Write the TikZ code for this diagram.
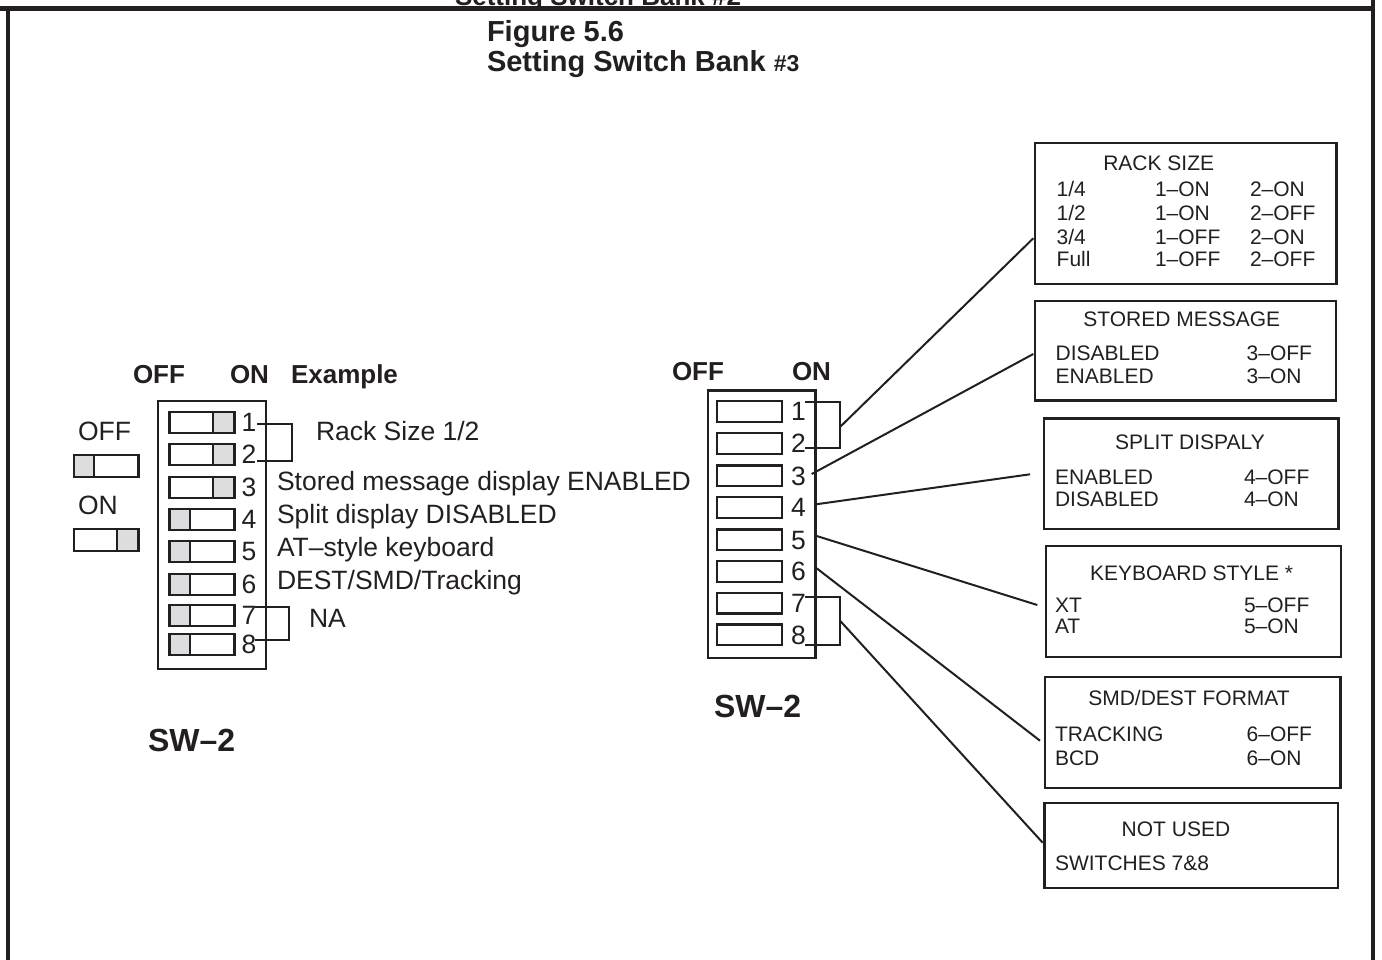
\documentclass[tikz,border=0pt]{standalone}
\usepackage{fontspec}
\setmainfont{Liberation Sans}
\definecolor{ink}{HTML}{231F20}
\definecolor{swshade}{HTML}{DCDDDE}
\newcommand\fsw{\fontsize{26.5}{30}\selectfont}
\newcommand\fswb{\fontsize{26}{30}\selectfont\bfseries}
\newcommand\fbx{\fontsize{21}{25}\selectfont}
\newcommand\fttl{\fontsize{29}{33}\selectfont\bfseries}
\newcommand\fswlab{\fontsize{32}{36}\selectfont\bfseries}
\begin{document}
\begin{tikzpicture}[x=1pt,y=-1pt,
  txt/.style={anchor=base west, inner sep=0pt, outer sep=0pt, text=ink, font=\fsw},
  btxt/.style={txt, font=\fswb},
  bxt/.style={txt, font=\fbx},
  infobox/.style={draw=ink, line width=2.4pt, anchor=north west, inner sep=0pt},
  swrect/.style={draw=ink, line width=2.2pt, anchor=north west, minimum width=65pt, minimum height=21pt, inner sep=0pt},
  bank/.style={draw=ink, line width=2.4pt, anchor=north west, inner sep=0pt},
  conn/.style={draw=ink, line width=2pt},
  brk/.style={draw=ink, line width=2pt},
  framel/.style={draw=ink, line width=4.4pt}
]
\useasboundingbox (0,0) rectangle (1382,959);

% cut-off heading of previous figure and frame
\node[txt, font=\fswb] (prevttl) at (455,5) {Setting Switch Bank \#2};
\draw[framel] (0,8.5) -- (1373,8.5);
\draw[framel] (8,8.5) -- (8,962);
\draw[framel] (1373,0) -- (1373,962);

% title
\node[txt, font=\fttl] (ttl1) at (487,41.7) {Figure 5.6};
\node[txt, font=\fttl] (ttl2) at (487,71.7) {Setting Switch Bank {\fontsize{23}{27}\selectfont\#3}};

% ---------------- left example bank ----------------
\node[btxt] (loff) at (133,383.3) {OFF};
\node[btxt] (lon) at (230,383.3) {ON};
\node[btxt] (lex) at (291,383.3) {Example};

\node[bank, minimum width=108pt, minimum height=268pt] (lbank) at (157,400) {};

\foreach \i/\t/\s in {1/410.5/1, 2/443/1, 3/475.5/1, 4/508/0, 5/540/0, 6/572.5/0, 7/604/0, 8/633/0} {
  \ifnum\s=1
    \fill[swshade] (213.3,\t) rectangle (233.3,\t+21);
    \draw[ink, line width=2.2pt] (213.3,\t) -- (213.3,\t+21);
  \else
    \fill[swshade] (168.3,\t) rectangle (190,\t+21);
    \draw[ink, line width=2.2pt] (190,\t) -- (190,\t+21);
  \fi
  \node[swrect] (L\i) at (168.3,\t) {};
  \node[txt] (Ln\i) at (241.5,\t+20.5) {\i};
}

% brackets
\draw[brk] (257,424) -- (292,424) -- (292,461) -- (257,461);
\draw[brk] (255,606.7) -- (289,606.7) -- (289,640) -- (255,640);

% descriptions
\node[txt] (d12) at (316,440) {Rack Size 1/2};
\node[txt] (d3) at (277,490.7) {Stored message display ENABLED};
\node[txt] (d4) at (277,523.3) {Split display DISABLED};
\node[txt] (d5) at (277,556.7) {AT–style keyboard};
\node[txt] (d6) at (277,589) {DEST/SMD/Tracking};
\node[txt] (d78) at (309,627.7) {NA};

% legend
\node[txt] (gOff) at (78,440.7) {OFF};
\fill[swshade] (72.7,454) rectangle (94,475.7);
\draw[ink, line width=2.2pt] (94,454) -- (94,475.7);
\node[swrect, minimum width=64.6pt, minimum height=21.7pt] (gOffSw) at (72.7,454) {};
\node[txt] (gOn) at (78,514) {ON};
\fill[swshade] (116.7,528) rectangle (137.3,550);
\draw[ink, line width=2.2pt] (116.7,528) -- (116.7,550);
\node[swrect, minimum width=64.6pt, minimum height=22pt] (gOnSw) at (72.7,528) {};

\node[txt, font=\fswlab] (lsw) at (148,751.5) {SW–2};

% ---------------- right bank ----------------
\node[btxt] (roff) at (672,380) {OFF};
\node[btxt] (ron) at (792,380) {ON};
\node[bank, minimum width=107.6pt, minimum height=267.4pt] (rbank) at (706.7,389.3) {};
\foreach \i/\t in {1/400, 2/432, 3/464.3, 4/496, 5/528.3, 6/560, 7/591.7, 8/623.3} {
  \node[swrect, minimum width=64.7pt, minimum height=20.7pt] (R\i) at (716,\t) {};
  \node[txt] (Rn\i) at (791,\t+20.7) {\i};
}
\draw[brk] (805,401.7) -- (840,401.7) -- (840,448.3) -- (805,448.3);
\draw[brk] (805,597.3) -- (840.3,597.3) -- (840.3,645) -- (805,645);

\node[txt, font=\fswlab] (rsw) at (714,717.5) {SW–2};

% ---------------- info boxes ----------------
\node[infobox, minimum width=301.3pt, minimum height=141pt] (rack) at (1034,141.7) {};
\node[bxt] at (1103.3,170) {RACK SIZE};
\node[bxt] at (1056.7,196.7) {1/4};
\node[bxt] at (1155,196.7) {1–ON};
\node[bxt] at (1250,196.7) {2–ON};
\node[bxt] at (1056.7,220) {1/2};
\node[bxt] at (1155,220) {1–ON};
\node[bxt] at (1250,220) {2–OFF};
\node[bxt] at (1056.7,244) {3/4};
\node[bxt] at (1155,244) {1–OFF};
\node[bxt] at (1250,244) {2–ON};
\node[bxt] at (1056.7,266.7) {Full};
\node[bxt] at (1155,266.7) {1–OFF};
\node[bxt] at (1250,266.7) {2–OFF};

\node[infobox, minimum width=301pt, minimum height=99.3pt] (stored) at (1034,300) {};
\node[bxt] at (1083.3,326) {STORED MESSAGE};
\node[bxt] at (1055.7,360.7) {DISABLED};
\node[bxt] at (1246.7,360.7) {3–OFF};
\node[bxt] at (1055.7,383.3) {ENABLED};
\node[bxt] at (1246.7,383.3) {3–ON};

\node[infobox, minimum width=294.6pt, minimum height=110.4pt] (split) at (1042.7,417.3) {};
\node[bxt] at (1115,449.3) {SPLIT DISPALY};
\node[bxt] at (1055,484) {ENABLED};
\node[bxt] at (1244,484) {4–OFF};
\node[bxt] at (1055,506.7) {DISABLED};
\node[bxt] at (1244,506.7) {4–ON};

\node[infobox, minimum width=295pt, minimum height=111pt] (kbd) at (1045,545) {};
\node[bxt] at (1090,580) {KEYBOARD STYLE *};
\node[bxt] at (1055,612.3) {XT};
\node[bxt] at (1244,612.3) {5–OFF};
\node[bxt] at (1055,633.3) {AT};
\node[bxt] at (1244,633.3) {5–ON};

\node[infobox, minimum width=295.3pt, minimum height=110.7pt] (smd) at (1044,676) {};
\node[bxt] at (1088.3,705) {SMD/DEST FORMAT};
\node[bxt] at (1055,741.7) {TRACKING};
\node[bxt] at (1246.7,741.7) {6–OFF};
\node[bxt] at (1055,765) {BCD};
\node[bxt] at (1246.7,765) {6–ON};

\node[infobox, minimum width=293.4pt, minimum height=85pt] (unused) at (1043.3,801.7) {};
\node[bxt] at (1121.7,836) {NOT USED};
\node[bxt] at (1055,870.7) {SWITCHES 7\&8};

% ---------------- connectors ----------------
\coordinate (s12) at (840,427);
\coordinate (s3) at (811.7,474);
\coordinate (s4) at (816,504.3);
\coordinate (s5) at (816.7,536);
\coordinate (s6) at (816.7,568.3);
\coordinate (s78) at (840.3,621);
\coordinate (e12) at (1033.3,238.3);
\coordinate (e3) at (1033.3,354);
\coordinate (e4) at (1030,474.3);
\coordinate (e5) at (1037.3,605);
\coordinate (e6) at (1040,740.7);
\coordinate (e78) at (1042.7,842.7);
\draw[conn] (s12) -- (e12);
\draw[conn] (s3) -- (e3);
\draw[conn] (s4) -- (e4);
\draw[conn] (s5) -- (e5);
\draw[conn] (s6) -- (e6);
\draw[conn] (s78) -- (e78);
\end{tikzpicture}
\end{document}
